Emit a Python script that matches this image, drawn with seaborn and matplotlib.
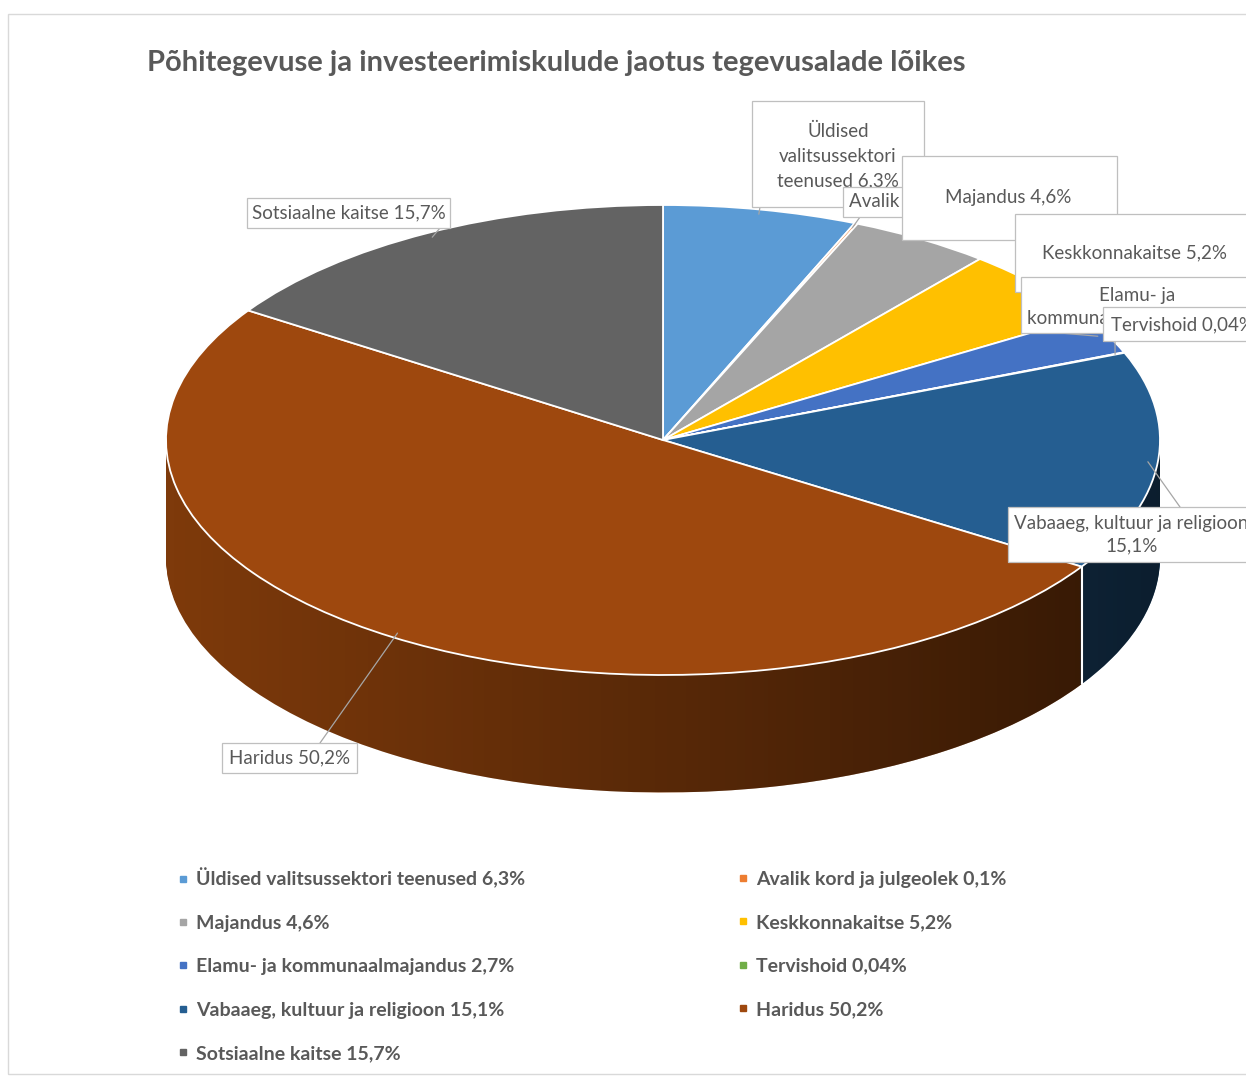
import numpy as np
import matplotlib
matplotlib.use('Agg')
import matplotlib.pyplot as plt
import seaborn as sns
from matplotlib.patches import Rectangle
from matplotlib.path import Path
from matplotlib.lines import Line2D
from matplotlib.transforms import Bbox, TransformedBbox

# data
categories = ['Üldised valitsussektori teenused', 'Avalik kord ja julgeolek', 'Majandus',
              'Keskkonnakaitse', 'Elamu- ja kommunaalmajandus', 'Tervishoid',
              'Vabaaeg, kultuur ja religioon', 'Haridus', 'Sotsiaalne kaitse']
shares = [6.3, 0.1, 4.6, 5.2, 2.7, 0.04, 15.1, 50.2, 15.7]
callout_texts = ['Üldised\nvalitsussektori\nteenused 6,3%', 'Avalik kord ja julgeolek 0,1%',
                 'Majandus 4,6%', 'Keskkonnakaitse 5,2%', 'Elamu- ja\nkommunaalmajandus 2,7%',
                 'Tervishoid 0,04%', 'Vabaaeg, kultuur ja religioon\n15,1%', 'Haridus 50,2%',
                 'Sotsiaalne kaitse 15,7%']
title = 'Põhitegevuse ja investeerimiskulude jaotus tegevusalade lõikes'

colors = sns.color_palette(['#5B9BD5', '#ED7D31', '#A5A5A5', '#FFC000', '#4472C4',
                            '#70AD47', '#255E91', '#9E480E', '#636363'])
side_colors = [tuple(c * 0.8 for c in col) for col in colors]

sns.set_theme(style='white')
plt.rcParams['font.family'] = ['Lato', 'DejaVu Sans']
TXT = '#595959'

W, H = 1246, 1076
def fx(px):
    return px / W
def fy(py):
    return 1 - py / H

fig = plt.figure(figsize=(W / 100, H / 100), dpi=100)
ax = fig.add_axes([0.05345, 0.19796, 0.95730, 0.65520])

depth = 0.5
# extruded side: stacked pies
for off in np.linspace(-depth, 0, 70):
    ax.pie(shares, colors=side_colors, startangle=90, counterclock=False, center=(0, off),
           wedgeprops=dict(linewidth=0, zorder=1))

# darkening gradient on the side
t_up = np.linspace(np.pi, 0, 100)
t_dn = np.linspace(0, -np.pi, 100)
verts = np.concatenate([np.c_[np.cos(t_up), np.sin(t_up)],
                        np.c_[np.cos(t_dn), np.sin(t_dn) - depth]])
clip = Path(verts)
grad = np.zeros((1, 256, 4))
grad[..., 3] = np.linspace(0.0, 0.6, 256)
img = ax.imshow(grad, extent=(-1, 1, -1 - depth, 1), aspect='auto', zorder=2)
img.set_clip_path(clip, ax.transData)

# white seam between slices on the side
cum = np.cumsum(shares) / np.sum(shares) * 360
a = np.deg2rad(cum[6])
ax.plot([np.sin(a), np.sin(a)], [np.cos(a), np.cos(a) - depth], color='white', lw=1.5, zorder=2.5)

# top face
ax.pie(shares, colors=colors, startangle=90, counterclock=False,
       wedgeprops=dict(edgecolor='white', linewidth=1.3, zorder=3))
ax.set_aspect('auto')
ax.set_xlim(-1.2, 1.2)
ax.set_ylim(-1.8, 1.2)
ax.axis('off')

# callouts: box (x0, y0, x1, y1), text position, alignment, leader start, visible rect  (pixels)
boxes = [
    ((752, 101, 924, 207), (838, 156), 'center', (760, 207), None),
    ((843, 187, 950, 217), (849, 202), 'left', (860, 217), (843, 187, 902, 217)),
    ((902, 156, 1117, 240), (1008, 198), 'center', (910, 240), None),
    ((1015, 214, 1262, 292), (1134, 253), 'center', (1018, 280), None),
    ((1021, 277, 1262, 333), (1137, 307), 'center', (1060, 333), None),
    ((1103, 307, 1262, 341), (1111, 325), 'left', (1115, 341), None),
    ((1008, 507, 1262, 562), (1014, 535), 'left', (1180, 507), None),
    ((222, 743, 357, 773), (290, 758), 'center', (320, 743), None),
    ((247, 198, 450, 228), (349, 213), 'center', (440, 228), None),
]
mids = (np.cumsum(shares) - np.array(shares) / 2) / np.sum(shares) * 2 * np.pi
for i, ((x0, y0, x1, y1), (tx, ty), ha, (lx, ly), vis) in enumerate(boxes):
    ax.annotate('', xy=(0.98 * np.sin(mids[i]), 0.98 * np.cos(mids[i])), xycoords='data',
                xytext=(fx(lx), fy(ly)), textcoords='figure fraction',
                arrowprops=dict(arrowstyle='-', color='#a6a6a6', lw=0.9, shrinkA=0, shrinkB=0))
    fig.add_artist(Rectangle((fx(x0), fy(y1)), fx(x1) - fx(x0), fy(y0) - fy(y1),
                             transform=fig.transFigure, facecolor='white', edgecolor='#bfbfbf',
                             lw=0.9, zorder=2 + 2 * i))
    t = fig.text(fx(tx), fy(ty), callout_texts[i], ha=ha, va='center', multialignment='center',
                 color=TXT, fontsize=13.5, linespacing=1.55 if i == 0 else 1.36, zorder=3 + 2 * i)
    if vis is not None:
        vx0, vy0, vx1, vy1 = vis
        t.set_clip_box(TransformedBbox(Bbox([[fx(vx0), fy(vy1)], [fx(vx1), fy(vy0)]]), fig.transFigure))

fig.text(fx(147), fy(63), title, ha='left', va='center', fontsize=21, fontweight='bold', color=TXT)

# legend, filled row by row
labels = [f"{c} {str(s).replace('.', ',')}%" for c, s in zip(categories, shares)]
handles = [Line2D([], [], marker='s', ls='', color=colors[i], markersize=5) for i in range(len(labels))]
for idx, xpx, ypx in [(range(0, 9, 2), 168, 858), (range(1, 9, 2), 728, 861)]:
    leg = fig.legend([handles[i] for i in idx], [labels[i] for i in idx], loc='upper left',
                     bbox_to_anchor=(fx(xpx), fy(ypx)), frameon=False, borderpad=0,
                     handlelength=0.5, handletextpad=0.45, labelspacing=1.36,
                     prop=dict(family='Lato', weight='bold', size=14))
    for t in leg.get_texts():
        t.set_color(TXT)

# chart area border
fig.add_artist(Rectangle((fx(8), fy(1074)), fx(1260) - fx(8), fy(14) - fy(1074),
                         transform=fig.transFigure, fill=False, edgecolor='#d9d9d9', lw=1, zorder=0))

fig.savefig('out.png', dpi=100)
